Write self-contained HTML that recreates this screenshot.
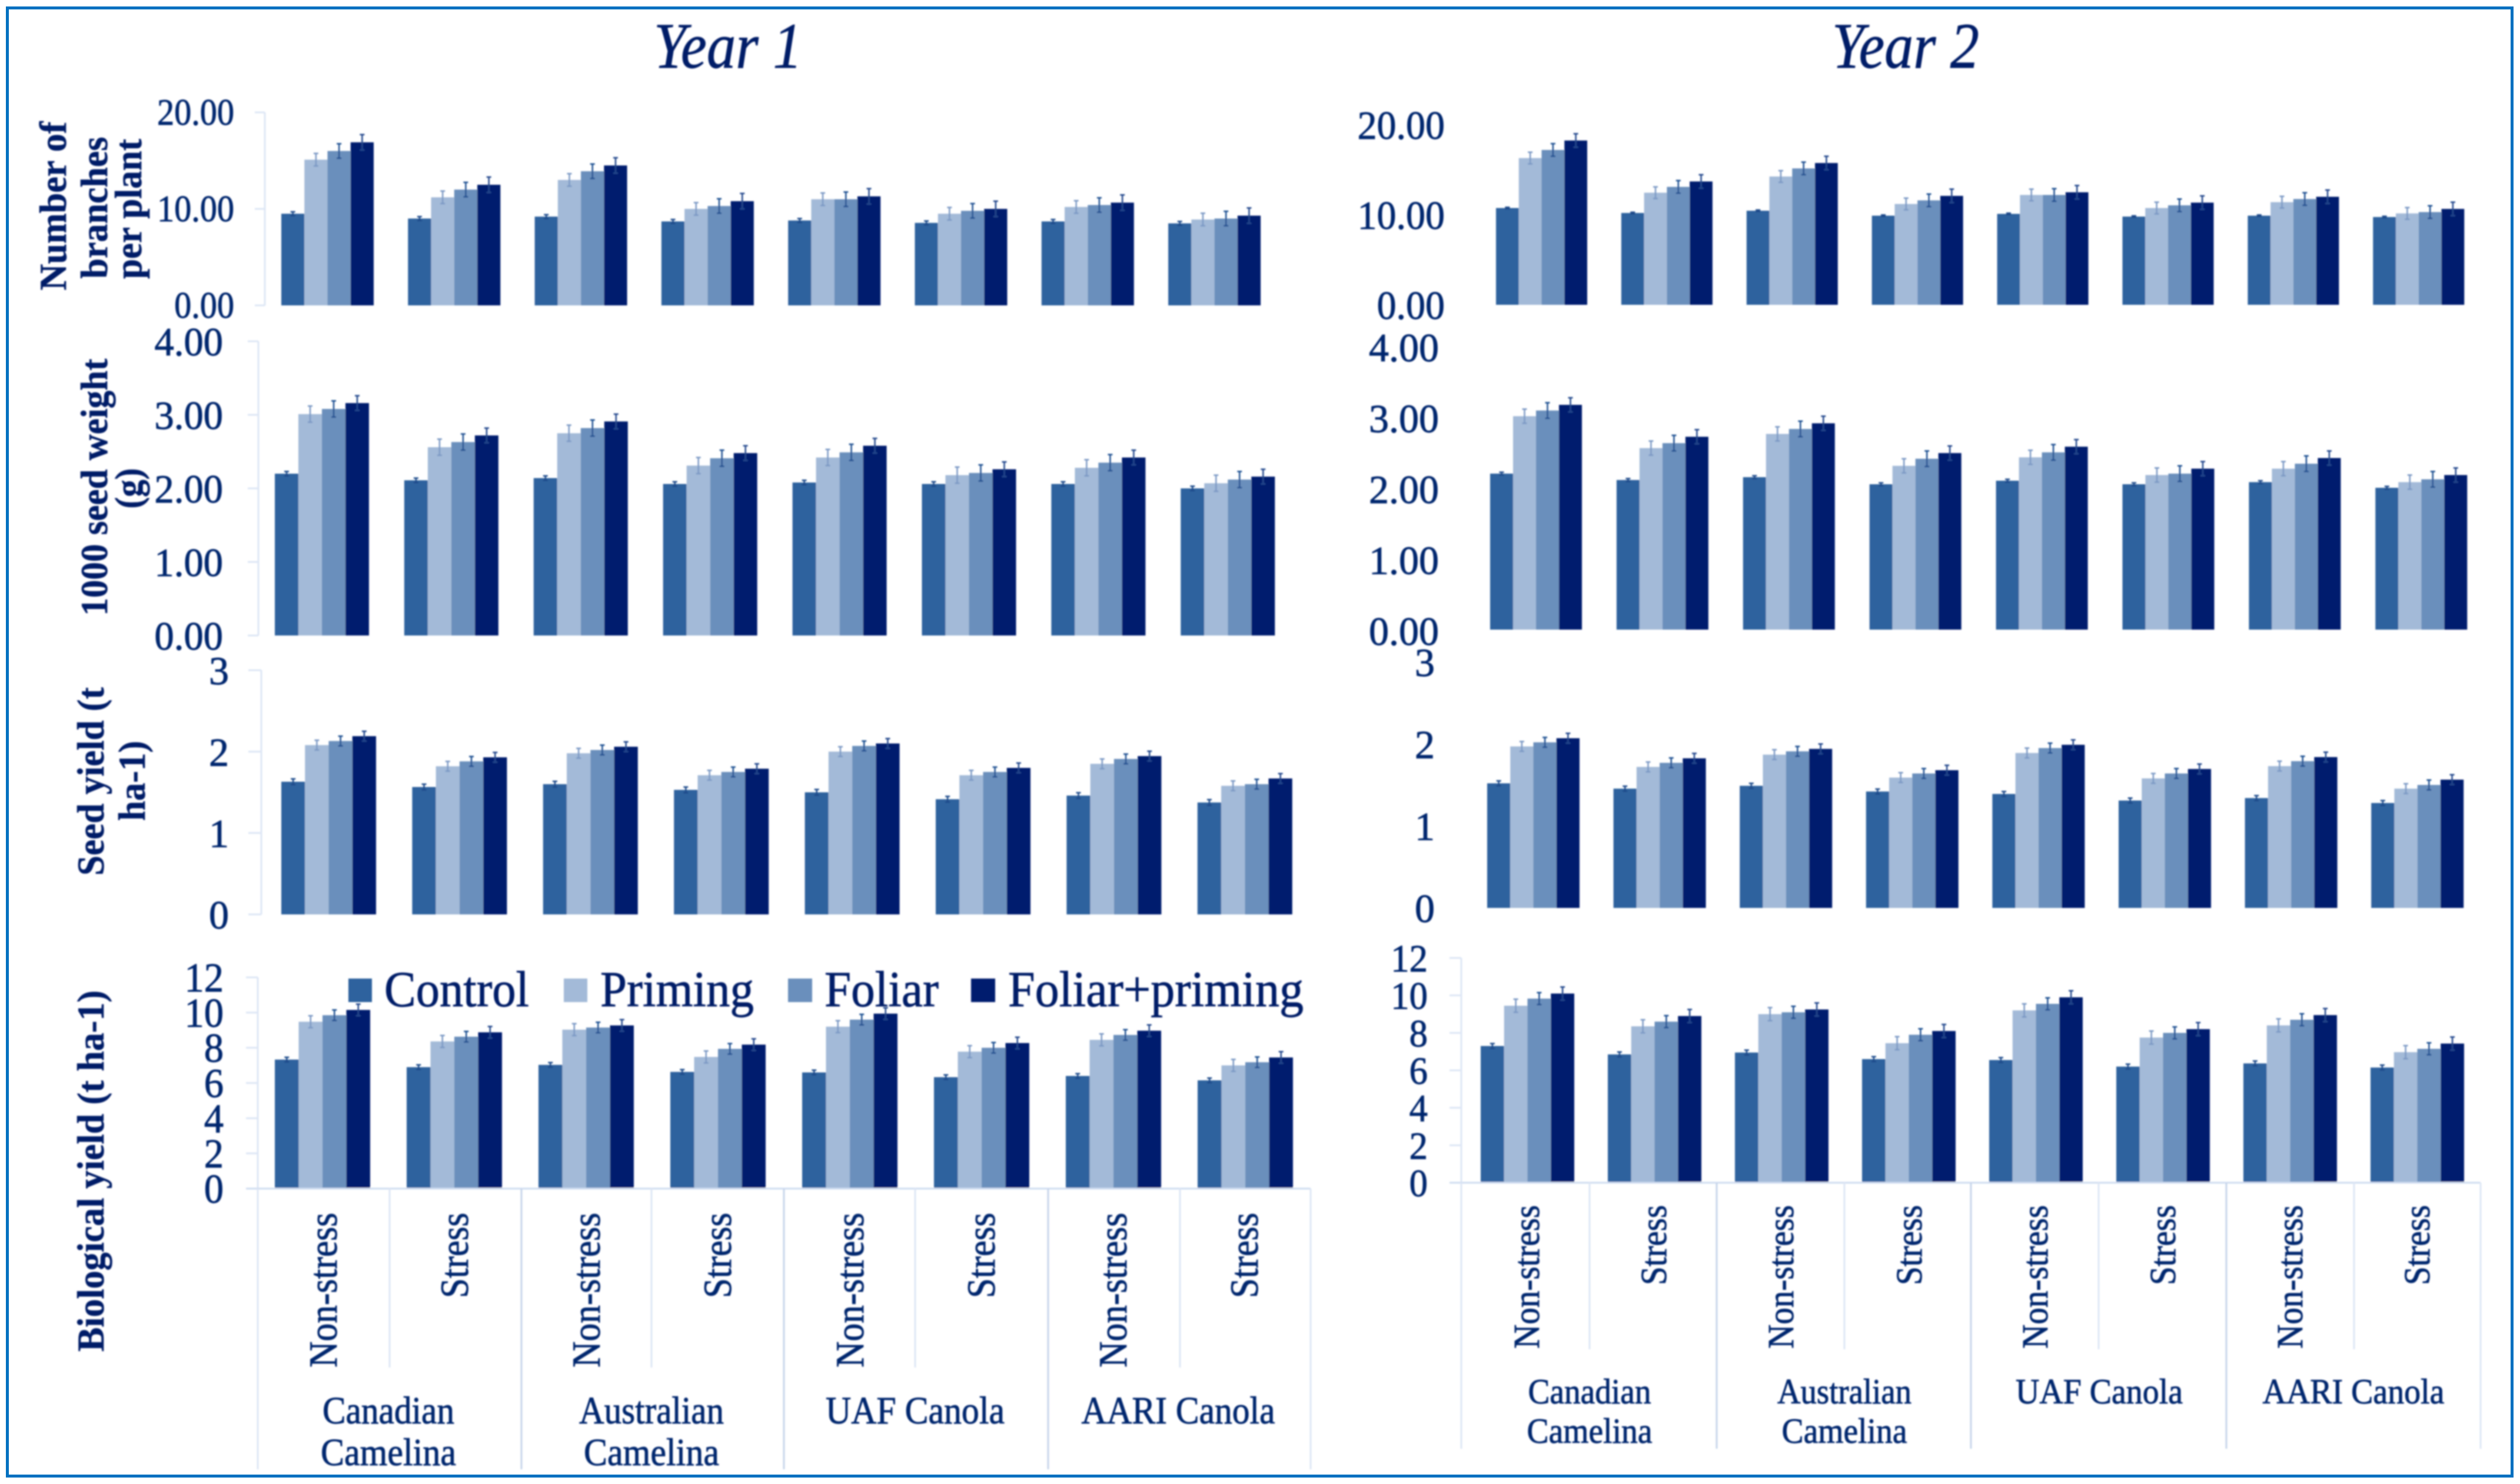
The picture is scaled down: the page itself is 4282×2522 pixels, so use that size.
<!DOCTYPE html>
<html lang="en">
<head>
<meta charset="utf-8">
<title>Year 1 and Year 2 yield charts</title>
<style>
html,body{margin:0;padding:0;background:#fff;width:4282px;height:2522px;overflow:hidden}
svg{display:block}
text{font-family:"Liberation Serif",serif;fill:#04266e;stroke:#04266e;stroke-width:0.9px}
.ytitle{font-weight:bold;font-size:65px;fill:#001c68;stroke:#001c68;stroke-width:0.6px}
.year{font-style:italic;font-size:110px;fill:#001c68;stroke:#001c68}
.leg{font-size:86px;fill:#001c68;stroke:#001c68}
</style>
</head>
<body>
<svg id="chart" xmlns="http://www.w3.org/2000/svg" width="4282" height="2522" viewBox="0 0 4282 2522">
  <defs>
    <filter id="soft" x="0" y="0" width="100%" height="100%" filterUnits="userSpaceOnUse" primitiveUnits="userSpaceOnUse">
      <feGaussianBlur stdDeviation="1.3"/>
    </filter>
  </defs>
  <rect x="0" y="0" width="4282" height="2522" fill="#ffffff"/>
  <g id="root" filter="url(#soft)">
    <text class="year" x="1237" y="115" text-anchor="middle" textLength="252" lengthAdjust="spacingAndGlyphs">Year 1</text>
    <text class="year" x="3238" y="115" text-anchor="middle" textLength="250" lengthAdjust="spacingAndGlyphs">Year 2</text>

    <g>
      <text class="ytitle" transform="rotate(-90 112 350)" x="112" y="350" text-anchor="middle" textLength="287" lengthAdjust="spacingAndGlyphs">Number of</text>
      <text class="ytitle" transform="rotate(-90 182 353)" x="182" y="353" text-anchor="middle" textLength="241" lengthAdjust="spacingAndGlyphs">branches</text>
      <text class="ytitle" transform="rotate(-90 240 355)" x="240" y="355" text-anchor="middle" textLength="238" lengthAdjust="spacingAndGlyphs">per plant</text>
      <text class="ytitle" transform="rotate(-90 182 828)" x="182" y="828" text-anchor="middle" textLength="437" lengthAdjust="spacingAndGlyphs">1000 seed weight</text>
      <text class="ytitle" transform="rotate(-90 240 830)" x="240" y="830" text-anchor="middle" textLength="69" lengthAdjust="spacingAndGlyphs">(g)</text>
      <text class="ytitle" transform="rotate(-90 176 1328)" x="176" y="1328" text-anchor="middle" textLength="320" lengthAdjust="spacingAndGlyphs">Seed yield (t</text>
      <text class="ytitle" transform="rotate(-90 246 1327)" x="246" y="1327" text-anchor="middle" textLength="136" lengthAdjust="spacingAndGlyphs">ha-1)</text>
      <text class="ytitle" transform="rotate(-90 176 1990)" x="176" y="1990" text-anchor="middle" textLength="614" lengthAdjust="spacingAndGlyphs">Biological yield (t ha-1)</text>
    </g>

    <g id="panels"></g>

    <g>
      <g>
        <rect x="592" y="1663" width="40" height="40" fill="#2f629e"/>
        <text class="leg" x="653" y="1710" textLength="246" lengthAdjust="spacingAndGlyphs">Control</text>
      </g>
      <g>
        <rect x="958" y="1663" width="40" height="40" fill="#a3bad8"/>
        <text class="leg" x="1020" y="1710" textLength="261" lengthAdjust="spacingAndGlyphs">Priming</text>
      </g>
      <g>
        <rect x="1339" y="1663" width="41" height="40" fill="#6a8fbc"/>
        <text class="leg" x="1401" y="1710" textLength="194" lengthAdjust="spacingAndGlyphs">Foliar</text>
      </g>
      <g>
        <rect x="1650" y="1663" width="41" height="40" fill="#001f6e"/>
        <text class="leg" x="1713" y="1710" textLength="502" lengthAdjust="spacingAndGlyphs">Foliar+priming</text>
      </g>
    </g>
  </g>
  <rect x="12.5" y="13.5" width="4256" height="2495" fill="none" stroke="#0070c0" stroke-width="5"/>
</svg>

<script>
// ---- shared categories ----
const conditions = ["Non-stress","Stress","Non-stress","Stress","Non-stress","Stress","Non-stress","Stress"];
const varietyLines = [["Canadian","Camelina"],["Australian","Camelina"],["UAF Canola"],["AARI Canola"]];
const seriesNames = ["control","priming","foliar","foliar-priming"];

// ---- tick labels ----
const ticksBranches = ["0.00","10.00","20.00"];
const ticksWeight = ["0.00","1.00","2.00","3.00","4.00"];
const ticksSeed = ["0","1","2","3"];
const ticksBio = ["0","2","4","6","8","10","12"];

// ---- Year 1: number of branches ----
const y1BranchesControl = [9.5,9.0,9.2,8.7,8.8,8.55,8.7,8.5];
const y1BranchesPriming = [15.1,11.2,13.0,10.0,11.0,9.5,10.2,8.9];
const y1BranchesFoliar = [16.0,12.0,13.9,10.3,11.0,9.8,10.4,9.0];
const y1BranchesBoth = [16.9,12.5,14.5,10.8,11.3,10.0,10.65,9.3];
const y1BranchesErr = [0.2,0.65,0.75,0.8];

// ---- Year 1: 1000 seed weight ----
const y1WeightControl = [2.20,2.11,2.14,2.06,2.08,2.06,2.06,2.00];
const y1WeightPriming = [3.01,2.56,2.75,2.31,2.42,2.18,2.28,2.07];
const y1WeightFoliar = [3.08,2.63,2.82,2.41,2.49,2.21,2.35,2.12];
const y1WeightBoth = [3.16,2.72,2.91,2.48,2.58,2.26,2.42,2.16];
const y1WeightErr = [0.03,0.11,0.11,0.1];

// ---- Year 1: seed yield ----
const y1SeedControl = [1.63,1.565,1.60,1.53,1.50,1.415,1.46,1.375];
const y1SeedPriming = [2.08,1.82,1.98,1.71,2.00,1.71,1.85,1.58];
const y1SeedFoliar = [2.13,1.88,2.02,1.75,2.07,1.75,1.91,1.60];
const y1SeedBoth = [2.19,1.93,2.06,1.79,2.10,1.80,1.945,1.67];
const y1SeedErr = [0.035,0.06,0.06,0.06];

// ---- Year 1: biological yield ----
const y1BioControl = [7.33,6.9,7.03,6.63,6.6,6.33,6.4,6.15];
const y1BioPriming = [9.48,8.36,9.03,7.48,9.2,7.78,8.45,7.0];
const y1BioFoliar = [9.85,8.63,9.15,7.94,9.6,8.0,8.73,7.18];
const y1BioBoth = [10.15,8.88,9.27,8.18,9.94,8.27,8.97,7.45];
const y1BioErr = [0.13,0.34,0.3,0.33];

// ---- Year 2: number of branches ----
const y2BranchesControl = [10.75,10.2,10.45,9.9,10.1,9.8,9.9,9.75];
const y2BranchesPriming = [16.3,12.45,14.25,11.2,12.2,10.75,11.4,10.15];
const y2BranchesFoliar = [17.2,13.1,15.15,11.6,12.2,11.05,11.75,10.3];
const y2BranchesBoth = [18.25,13.7,15.75,12.1,12.5,11.35,12.0,10.65];
const y2BranchesErr = [0.08,0.65,0.7,0.75];

// ---- Year 2: 1000 seed weight ----
const y2WeightControl = [2.20,2.11,2.15,2.05,2.10,2.05,2.08,2.00];
const y2WeightPriming = [3.01,2.56,2.76,2.31,2.43,2.18,2.27,2.08];
const y2WeightFoliar = [3.09,2.63,2.83,2.41,2.50,2.20,2.34,2.12];
const y2WeightBoth = [3.17,2.72,2.91,2.49,2.58,2.27,2.42,2.18];
const y2WeightErr = [0.02,0.1,0.11,0.1];

// ---- Year 2: seed yield ----
const y2SeedControl = [1.52,1.455,1.49,1.42,1.39,1.31,1.34,1.28];
const y2SeedPriming = [1.97,1.72,1.87,1.59,1.89,1.58,1.73,1.455];
const y2SeedFoliar = [2.02,1.77,1.91,1.64,1.95,1.64,1.79,1.50];
const y2SeedBoth = [2.07,1.825,1.94,1.68,1.99,1.695,1.84,1.565];
const y2SeedErr = [0.03,0.06,0.06,0.06];

// ---- Year 2: biological yield ----
const y2BioControl = [7.3,6.85,6.95,6.6,6.55,6.2,6.37,6.15];
const y2BioPriming = [9.45,8.35,9.0,7.45,9.2,7.75,8.4,6.97];
const y2BioFoliar = [9.83,8.6,9.1,7.9,9.55,8.0,8.7,7.15];
const y2BioBoth = [10.1,8.9,9.25,8.1,9.9,8.2,8.95,7.43];
const y2BioErr = [0.13,0.35,0.32,0.35];

const SVGNS = "http://www.w3.org/2000/svg";
const barColors = ["#2f629e","#a3bad8","#6a8fbc","#001f6e"];
const errColors = ["#1d4a8a","#7a98c4","#1f4f91","#24468c"];
const AXIS = "#dde6f5";
const panelsHost = document.getElementById("panels");

function add(parent, tag, attrs, name) {
  const el = document.createElementNS(SVGNS, tag);
  
  
  for (const k in attrs) el.setAttribute(k, attrs[k]);
  parent.appendChild(el);
  return el;
}

function tickWidth(label, size, k) {
  let em = 0;
  for (const c of label) em += c === "." ? 0.25 : 0.5;
  return em * size * k;
}

function drawPanel(p) {
  const g = add(panelsHost, "g", {}, p.name);
  const yScale = v => p.base - (v / p.max) * (p.base - p.top);
  const xScale = (group, s) => p.x0 + p.pitch * group + p.barW * s;

  // y axis line + tick marks
  if (p.axisX) {
    add(g, "line", {x1:p.axisX, x2:p.axisX, y1:p.top, y2:p.base, stroke:AXIS, "stroke-width":3}, p.name + "-y-axis");
  }
  p.ticks.forEach((label, i) => {
    const v = parseFloat(label);
    const y = yScale(v);
    if (p.axisX) {
      add(g, "line", {x1:p.tickLeft, x2:p.axisX, y1:y, y2:y, stroke:AXIS, "stroke-width":3}, p.name + "-tick-mark");
    }
    const t = add(g, "text", {
      x: p.labelRight, y: y + p.labelDy, "text-anchor": "end",
      "font-size": p.labelSize,
      textLength: tickWidth(label, p.labelSize, p.labelK),
      lengthAdjust: "spacingAndGlyphs"
    }, p.name + "-tick-label");
    t.textContent = label;
  });

  // bars and error bars
  p.series.forEach((values, s) => {
    values.forEach((v, i) => {
      const x = xScale(i, s);
      const y = yScale(v);
      add(g, "rect", {x:x, y:y, width:p.barW, height:p.base - y, fill:barColors[s]}, p.name + "-bar-" + seriesNames[s]);
    });
  });
  p.series.forEach((values, s) => {
    values.forEach((v, i) => {
      const cx = xScale(i, s) + p.barW / 2;
      const hi = yScale(v + p.err[s]);
      const lo = yScale(v - p.err[s]);
      const eg = add(g, "g", {stroke:errColors[s], "stroke-width":2.5}, p.name + "-error-bar-" + seriesNames[s]);
      add(eg, "line", {x1:cx, x2:cx, y1:hi, y2:lo}, "error-stem");
      add(eg, "line", {x1:cx-4, x2:cx+4, y1:hi, y2:hi}, "error-cap-top");
      add(eg, "line", {x1:cx-4, x2:cx+4, y1:lo, y2:lo}, "error-cap-bottom");
    });
  });

  // category axis only on the bottom panels
  if (p.cat) {
    const c = p.cat;
    add(g, "line", {x1:p.tickLeft, x2:c.seps[c.seps.length-1], y1:p.base, y2:p.base, stroke:"#cfdcf0", "stroke-width":3}, p.name + "-x-axis");
    c.seps.forEach((sx, i) => {
      const long = i % 2 === 0;
      add(g, "line", {x1:sx, x2:sx, y1:p.base, y2: long ? c.longEnd : c.shortEnd, stroke: i===2||i===4||i===6 ? "#c6d5ea" : AXIS, "stroke-width":3}, p.name + "-category-separator");
    });
    conditions.forEach((label, i) => {
      const cx = c.centers[i] + c.catShift;
      const t = add(g, "text", {
        x: cx, y: c.catTop, "text-anchor": "end",
        transform: "rotate(-90 " + cx + " " + c.catTop + ")",
        "font-size": c.catSize,
        textLength: label === "Stress" ? c.stressLen : c.nonLen,
        lengthAdjust: "spacingAndGlyphs"
      }, p.name + "-condition-label");
      t.textContent = label;
    });
    varietyLines.forEach((lines, i) => {
      lines.forEach((label, j) => {
        const t = add(g, "text", {
          x: c.varCenters[i], y: c.varY + j * c.varStep, "text-anchor": "middle",
          "font-size": c.varSize,
          textLength: c.varLens[label] ,
          lengthAdjust: "spacingAndGlyphs"
        }, p.name + "-variety-label");
        t.textContent = label;
      });
    });
  }
}

// ---- Year 1 panels ----
drawPanel({name:"y1-branches", series:[y1BranchesControl,y1BranchesPriming,y1BranchesFoliar,y1BranchesBoth], err:y1BranchesErr,
  max:20, ticks:ticksBranches, base:519, top:191, x0:478, pitch:215.3, barW:39.25,
  axisX:450, tickLeft:433, labelRight:398, labelDy:21, labelSize:64, labelK:0.91});
drawPanel({name:"y1-seed-weight", series:[y1WeightControl,y1WeightPriming,y1WeightFoliar,y1WeightBoth], err:y1WeightErr,
  max:4, ticks:ticksWeight, base:1080, top:580, x0:467, pitch:219.9, barW:40,
  axisX:439, tickLeft:421, labelRight:379, labelDy:24, labelSize:68, labelK:0.98});
drawPanel({name:"y1-seed-yield", series:[y1SeedControl,y1SeedPriming,y1SeedFoliar,y1SeedBoth], err:y1SeedErr,
  max:3, ticks:ticksSeed, base:1554, top:1139, x0:478, pitch:222.4, barW:40.25,
  axisX:444, tickLeft:422, labelRight:389, labelDy:24, labelSize:68, labelK:1});
drawPanel({name:"y1-biological-yield", series:[y1BioControl,y1BioPriming,y1BioFoliar,y1BioBoth], err:y1BioErr,
  max:12, ticks:ticksBio, base:2020, top:1661, x0:467, pitch:224, barW:40.5,
  axisX:438, tickLeft:418, labelRight:380, labelDy:24, labelSize:70, labelK:0.95,
  cat:{seps:[438,662,886,1107,1332,1555,1781,2005,2227], longEnd:2497, shortEnd:2324,
       centers:[550,773,997,1220,1445,1668,1892,2115], catShift:22, catTop:2061, catSize:68, nonLen:263, stressLen:145,
       varCenters:[660,1107,1555,2002], varY:2419, varStep:71, varSize:66,
       varLens:{"Canadian":224,"Camelina":230,"Australian":246,"UAF Canola":304,"AARI Canola":329}}});

// ---- Year 2 panels ----
drawPanel({name:"y2-branches", series:[y2BranchesControl,y2BranchesPriming,y2BranchesFoliar,y2BranchesBoth], err:y2BranchesErr,
  max:20, ticks:ticksBranches, base:518, top:212, x0:2542, pitch:212.9, barW:38.75,
  labelRight:2455, labelDy:24, labelSize:68, labelK:0.97});
drawPanel({name:"y2-seed-weight", series:[y2WeightControl,y2WeightPriming,y2WeightFoliar,y2WeightBoth], err:y2WeightErr,
  max:4, ticks:ticksWeight, base:1070, top:588, x0:2532, pitch:214.9, barW:39,
  labelRight:2445, labelDy:26, labelSize:68, labelK:1});
drawPanel({name:"y2-seed-yield", series:[y2SeedControl,y2SeedPriming,y2SeedFoliar,y2SeedBoth], err:y2SeedErr,
  max:3, ticks:ticksSeed, base:1543, top:1125, x0:2527, pitch:214.6, barW:39.25,
  labelRight:2438, labelDy:24, labelSize:68, labelK:1});
drawPanel({name:"y2-biological-yield", series:[y2BioControl,y2BioPriming,y2BioFoliar,y2BioBoth], err:y2BioErr,
  max:12, ticks:ticksBio, base:2010, top:1628, x0:2516, pitch:216, barW:39.75,
  axisX:2483, tickLeft:2463, labelRight:2426, labelDy:23, labelSize:66, labelK:0.95,
  cat:{seps:[2483,2701,2917,3134,3349,3566,3783,4000,4215], longEnd:2462, shortEnd:2293,
       centers:[2595,2811,3027,3245,3459,3676,3892,4108], catShift:20, catTop:2048, catSize:62, nonLen:244, stressLen:136,
       varCenters:[2701,3134,3567,3999], varY:2385, varStep:67, varSize:60,
       varLens:{"Canadian":209,"Camelina":213,"Australian":228,"UAF Canola":284,"AARI Canola":309}}});
</script>
</body>
</html>
